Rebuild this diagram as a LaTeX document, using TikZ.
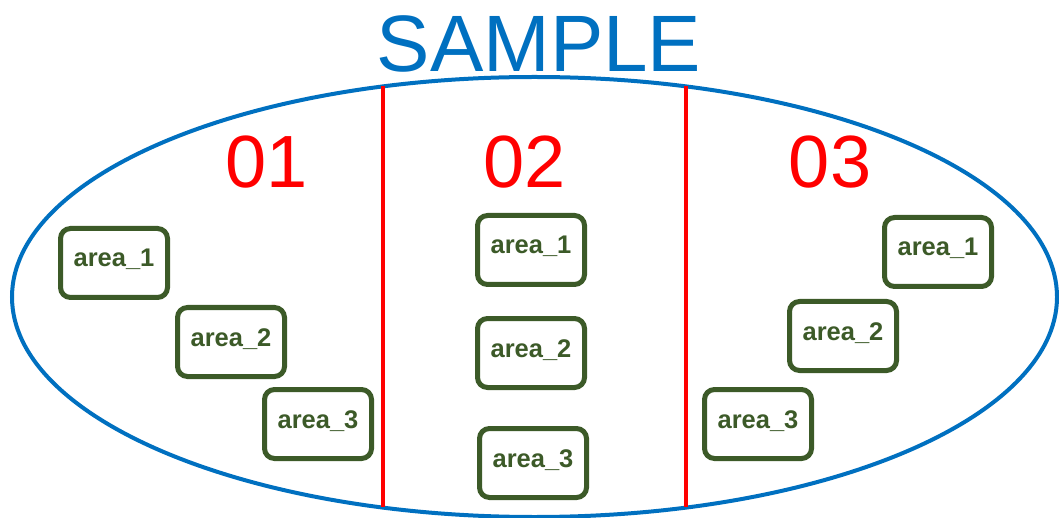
\documentclass[tikz,border=0pt]{standalone}
\usepackage{fontspec}
\setmainfont{Liberation Sans}
\usetikzlibrary{shapes.geometric}
\definecolor{sblue}{HTML}{0070C0}
\definecolor{sred}{HTML}{FF0000}
\definecolor{sgreen}{HTML}{3C5A28}
\tikzset{
  areabox/.style={draw=sgreen, line width=5pt, rounded corners=10pt, fill=white,
    minimum width=107pt, minimum height=69pt, inner sep=0pt,
    text height=19pt, text depth=11pt, text=sgreen,
    font=\fontsize{25.5}{26}\selectfont\bfseries},
  numlabel/.style={text=sred, anchor=base, inner sep=0pt, font=\fontsize{74}{74}\selectfont},
  divider/.style={draw=sred, line width=3.5pt}
}
\begin{document}
\begin{tikzpicture}[x=1pt,y=-1pt]
\useasboundingbox (0,0) rectangle (1059,518);
\node[draw=sblue, line width=4pt, ellipse, minimum width=1045pt, minimum height=440pt, inner sep=0pt] (ell) at (534.5,297) {};
\node[text=sblue, anchor=base, inner sep=0pt, font=\fontsize{80}{80}\selectfont] (title) at (539,72) {SAMPLE};
\coordinate (d1t) at (383,86);
\coordinate (d1b) at (383,507);
\coordinate (d2t) at (686,86);
\coordinate (d2b) at (686,507);
\draw[divider] (d1t) -- (d1b);
\draw[divider] (d2t) -- (d2b);
\node[numlabel] (n1) at (267,188) {01};
\node[numlabel] (n2) at (525,188) {02};
\node[numlabel] (n3) at (830,188) {03};
\node[areabox] (a11) at (114,263) {area\_1};
\node[areabox] (a12) at (231,342) {area\_2};
\node[areabox] (a13) at (318,424) {area\_3};
\node[areabox] (a21) at (531,250) {area\_1};
\node[areabox] (a22) at (531,353) {area\_2};
\node[areabox] (a23) at (533,463) {area\_3};
\node[areabox] (a31) at (938,252) {area\_1};
\node[areabox] (a32) at (843,336) {area\_2};
\node[areabox] (a33) at (758,424) {area\_3};
\end{tikzpicture}
\end{document}
